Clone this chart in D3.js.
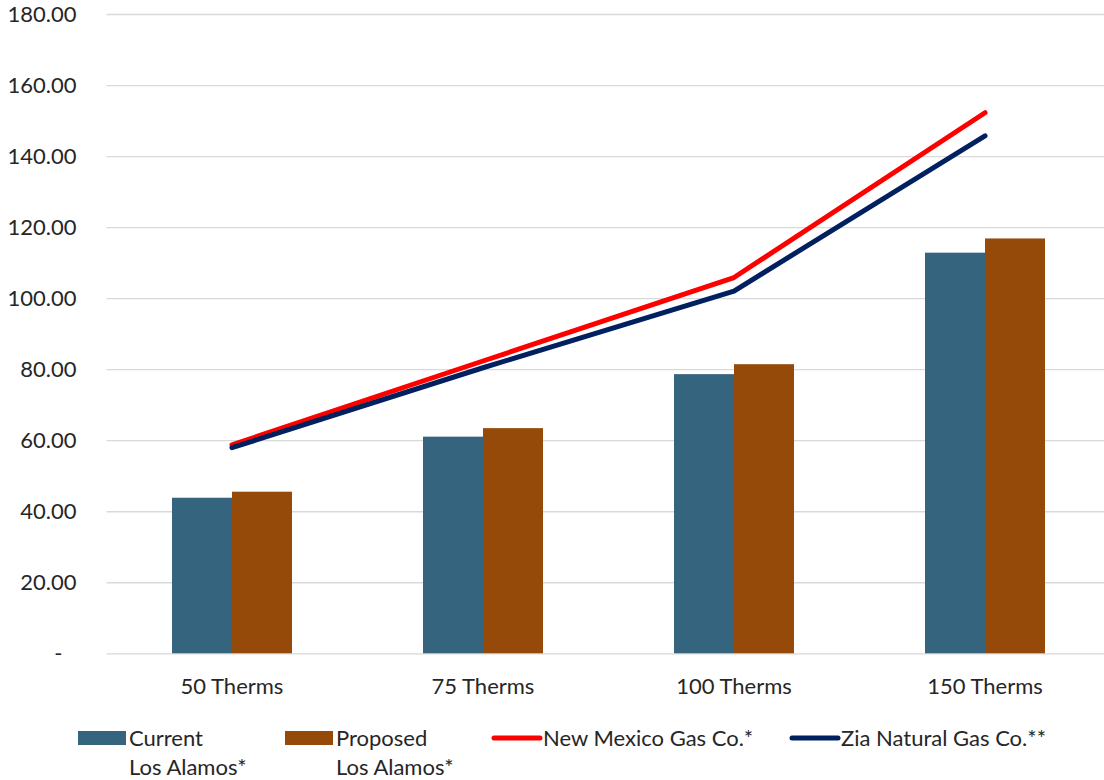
<!DOCTYPE html>
<html>
<head>
<meta charset="utf-8">
<script src="https://cdn.jsdelivr.net/npm/d3@7"></script>
<style>
  body { margin: 0; background: #fff; }
  text { font-family: Lato, "Open Sans", sans-serif; fill: #262626; }
</style>
</head>
<body>
<div id="chart"></div>
<script>
// chart data
var categories = ["50 Therms", "75 Therms", "100 Therms", "150 Therms"];
var currentLA = [43.8, 61.0, 78.6, 112.8];
var proposedLA = [45.5, 63.4, 81.4, 116.8];
var newMexicoGas = [58.7, 82.3, 105.8, 152.2];
var ziaGas = [57.9, 80.4, 102.0, 145.7];
var yTicks = [0, 20, 40, 60, 80, 100, 120, 140, 160, 180];

var legendItems = [
  {name: ["Current", "Los Alamos*"], color: "#35647e", type: "bar", x: 78},
  {name: ["Proposed", "Los Alamos*"], color: "#954a09", type: "bar", x: 285},
  {name: ["New Mexico Gas Co.*"], color: "#ff0000", type: "line", x: 492},
  {name: ["Zia Natural Gas Co.**"], color: "#002060", type: "line", x: 790}
];

var W = 1104, H = 780;
var plotLeft = 106.5, plotRight = 1110.5, plotTop = 14, plotBottom = 653.3;

var svg = d3.select("#chart").append("svg")
  .attr("width", W)
  .attr("height", H);

var x = d3.scaleBand()
  .domain(categories)
  .range([plotLeft, plotRight]);

var inner = 2 * 60 / x.bandwidth();
var xSub = d3.scaleBand()
  .domain(["current", "proposed"])
  .range([x.bandwidth() * (1 - inner) / 2, x.bandwidth() * (1 + inner) / 2]);

var y = d3.scaleLinear()
  .domain([0, 180])
  .range([plotBottom, plotTop]);

// gridlines + y labels
var yAxis = svg.append("g")
  .attr("transform", "translate(" + plotLeft + ",0)")
  .call(d3.axisLeft(y)
    .tickValues(yTicks)
    .tickSize(-(plotRight - plotLeft))
    .tickPadding(30)
    .tickFormat(function(d) { return d === 0 ? "-" : d3.format(".2f")(d); }));
yAxis.select(".domain").remove();
yAxis.selectAll("line").attr("stroke", "#d9d9d9").attr("stroke-width", 1.3);
yAxis.selectAll("text")
  .style("font-family", "Lato, sans-serif")
  .style("font-size", "22px")
  .attr("fill", "#262626")
  .attr("dx", function(d) { return d === 0 ? -14 : 0; });

// bars
var groups = svg.append("g").selectAll("g")
  .data(categories)
  .enter().append("g")
  .attr("transform", function(d) { return "translate(" + x(d) + ",0)"; });

groups.append("rect")
  .attr("x", xSub("current"))
  .attr("width", xSub.bandwidth())
  .attr("y", function(d, i) { return y(currentLA[i]); })
  .attr("height", function(d, i) { return y(0) - y(currentLA[i]); })
  .attr("fill", "#35647e");

groups.append("rect")
  .attr("x", xSub("proposed"))
  .attr("width", xSub.bandwidth())
  .attr("y", function(d, i) { return y(proposedLA[i]); })
  .attr("height", function(d, i) { return y(0) - y(proposedLA[i]); })
  .attr("fill", "#954a09");

// lines
var line = d3.line()
  .x(function(d, i) { return x(categories[i]) + x.bandwidth() / 2; })
  .y(function(d) { return y(d); });

svg.append("path")
  .datum(newMexicoGas)
  .attr("d", line)
  .attr("fill", "none")
  .attr("stroke", "#ff0000")
  .attr("stroke-width", 5)
  .attr("stroke-linecap", "round")
  .attr("stroke-linejoin", "round");

svg.append("path")
  .datum(ziaGas)
  .attr("d", line)
  .attr("fill", "none")
  .attr("stroke", "#002060")
  .attr("stroke-width", 5)
  .attr("stroke-linecap", "round")
  .attr("stroke-linejoin", "round");

// x labels
svg.append("g").selectAll("text")
  .data(categories)
  .enter().append("text")
  .attr("x", function(d) { return x(d) + x.bandwidth() / 2; })
  .attr("y", 694)
  .attr("text-anchor", "middle")
  .style("font-size", "22px")
  .text(function(d) { return d; });

// legend
var leg = svg.append("g").selectAll("g")
  .data(legendItems)
  .enter().append("g")
  .attr("transform", function(d) { return "translate(" + d.x + ",0)"; });

leg.filter(function(d) { return d.type == "bar"; })
  .append("rect")
  .attr("x", 0).attr("y", 731)
  .attr("width", 48).attr("height", 14)
  .attr("fill", function(d) { return d.color; });

leg.filter(function(d) { return d.type == "line"; })
  .append("line")
  .attr("x1", 2).attr("x2", 48)
  .attr("y1", 738).attr("y2", 738)
  .attr("stroke", function(d) { return d.color; })
  .attr("stroke-width", 5)
  .attr("stroke-linecap", "round");

leg.append("text")
  .attr("x", 51)
  .attr("y", 746)
  .style("font-size", "22px")
  .selectAll("tspan")
  .data(function(d) { return d.name; })
  .enter().append("tspan")
  .attr("x", 51)
  .attr("dy", function(d, i) { return i == 0 ? 0 : 29; })
  .text(function(d) { return d; });
</script>
</body>
</html>
